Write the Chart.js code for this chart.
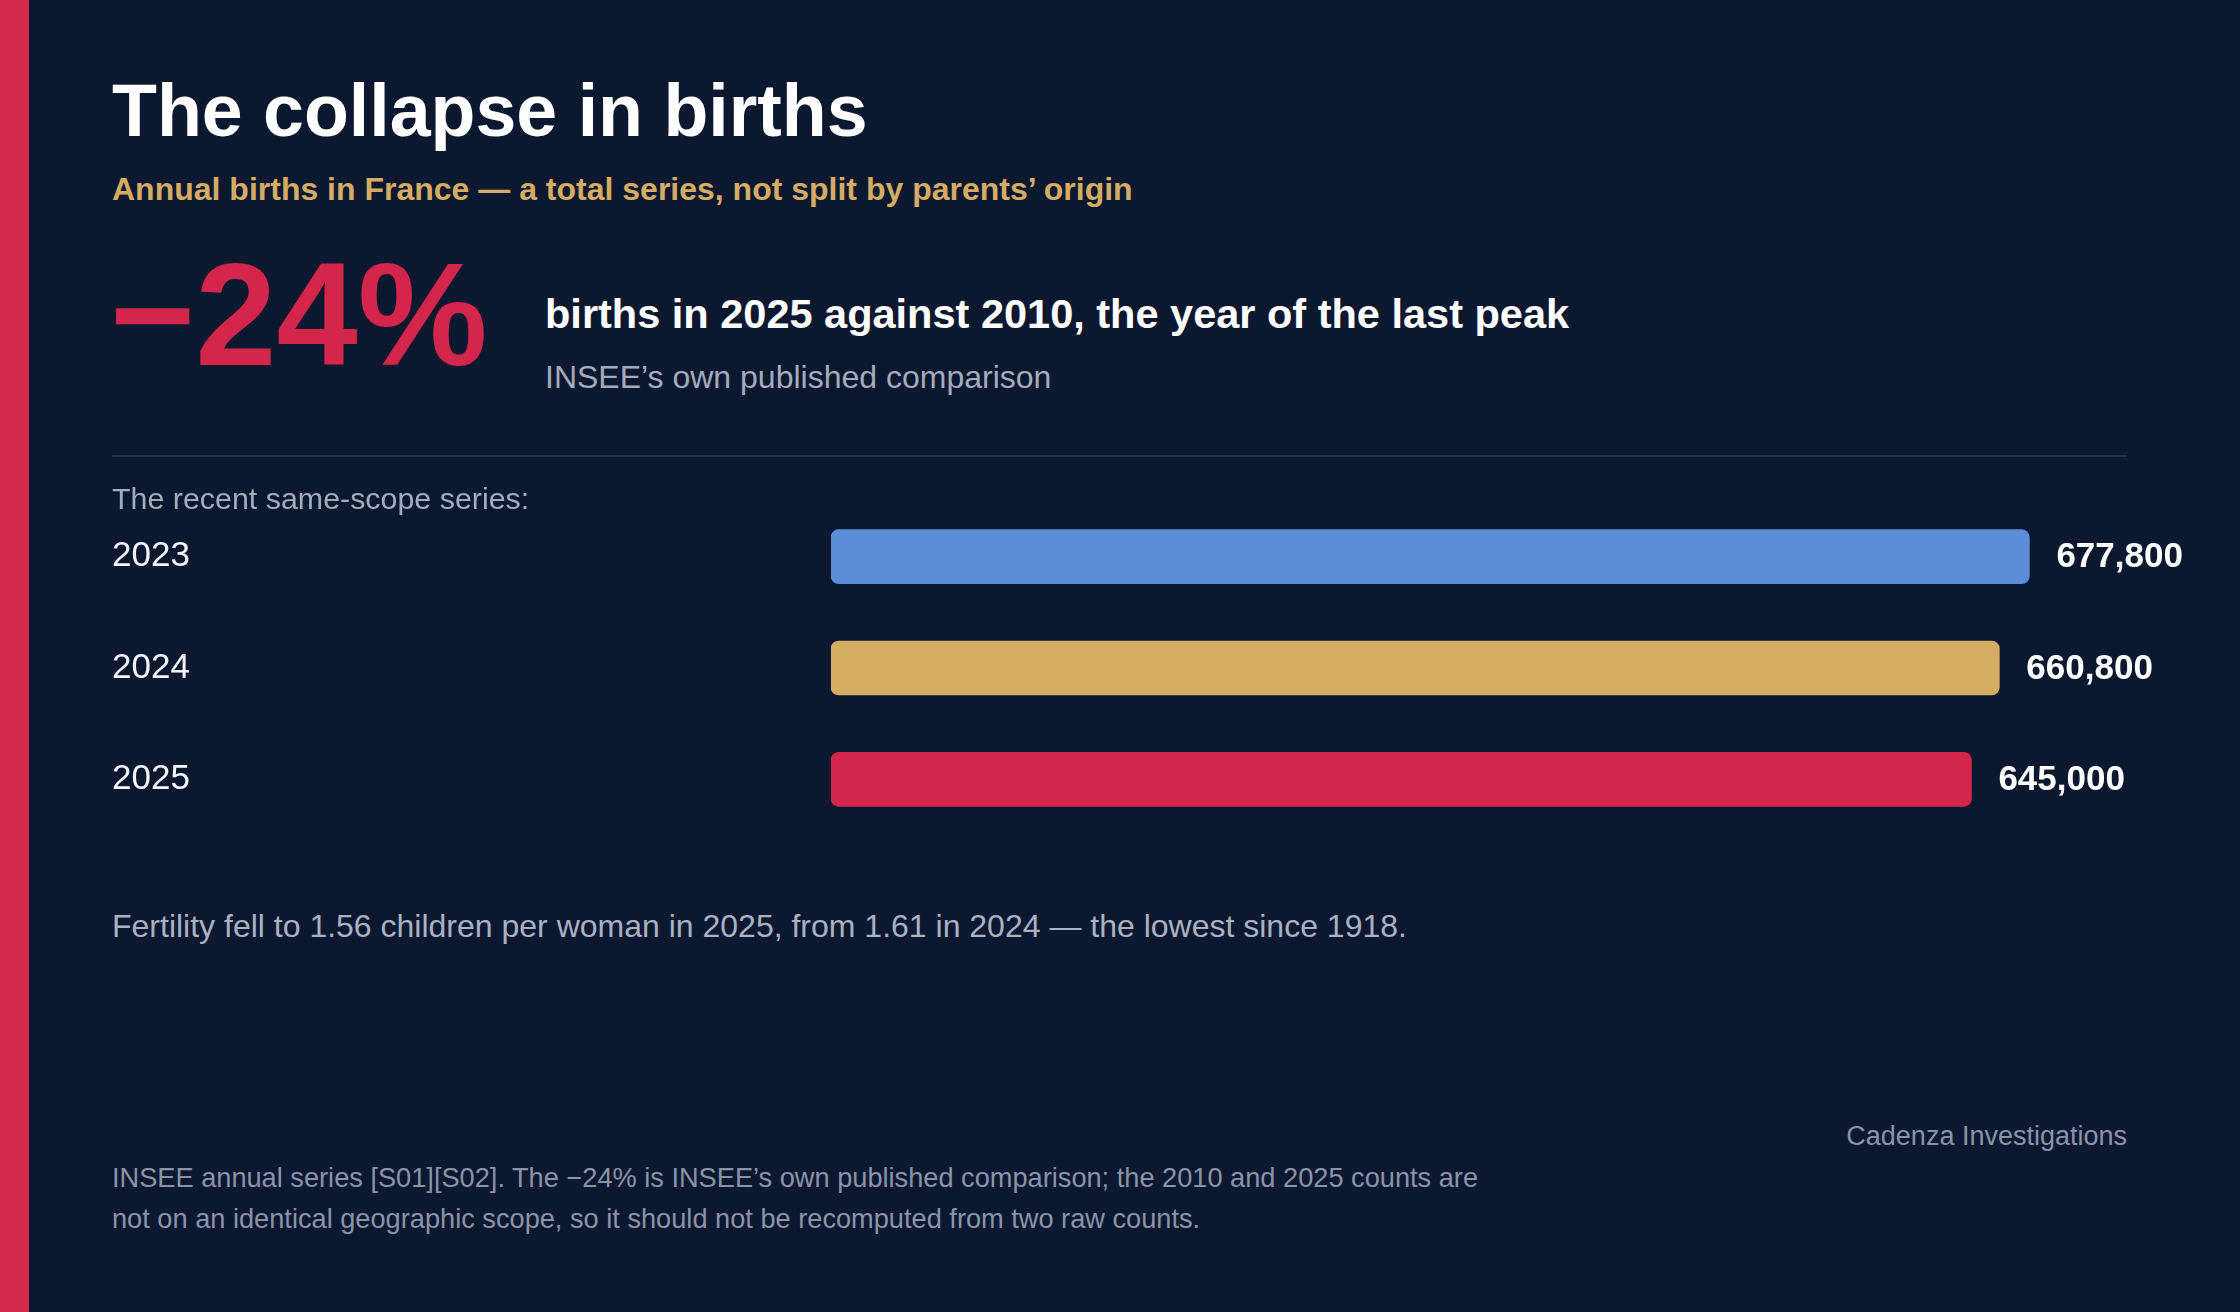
<!DOCTYPE html>
<html>
<head>
<meta charset="utf-8">
<script src="https://cdn.jsdelivr.net/npm/chart.js@4.4.1/dist/chart.umd.min.js"></script>
<style>
  html, body { margin: 0; padding: 0; }
  body {
    width: 2240px; height: 1312px; position: relative; overflow: hidden;
    background: #0c1830; font-family: "Liberation Sans", Arial, sans-serif;
  }
  .stripe { position: absolute; left: 0; top: 0; width: 29px; height: 1312px; background: #d62a4b; }
  .t { position: absolute; white-space: nowrap; line-height: 1; }
  #title { left: 112px; top: 74px; font-size: 73.5px; font-weight: bold; color: #ffffff; }
  #sub { left: 112px; top: 173px; font-size: 32px; font-weight: bold; color: #d4ac63; }
  #big { left: 110px; top: 242px; font-size: 146px; font-weight: bold; color: #d4264a; }
  #headline { left: 545px; top: 293px; font-size: 41.5px; font-weight: bold; color: #ffffff; }
  #headsub { left: 545px; top: 361px; font-size: 32px; color: #a3acbb; }
  .rule { position: absolute; left: 112px; top: 455px; width: 2015px; height: 2px; background: #24334d; }
  #recent { left: 112px; top: 483px; font-size: 30.4px; color: #a3acbb; }
  #fert { left: 112px; top: 910px; font-size: 32px; color: #a9b2c1; }
  #brand { right: 113px; top: 1123px; font-size: 27px; color: #8a94a8; }
  #note { left: 112px; top: 1157px; font-size: 27.2px; line-height: 41px; color: #8a94a8; white-space: normal; width: 1500px; }
  #wrap { position: absolute; left: 112px; top: 480px; width: 2128px; height: 376px; }
</style>
</head>
<body>
<div class="stripe"></div>
<div class="t" id="title">The collapse in births</div>
<div class="t" id="sub">Annual births in France — a total series, not split by parents’ origin</div>
<div class="t" id="big">−24%</div>
<div class="t" id="headline">births in 2025 against 2010, the year of the last peak</div>
<div class="t" id="headsub">INSEE’s own published comparison</div>
<div class="rule"></div>
<div id="wrap"><canvas id="chart"></canvas></div>
<div class="t" id="recent">The recent same-scope series:</div>
<div class="t" id="fert">Fertility fell to 1.56 children per woman in 2025, from 1.61 in 2024 — the lowest since 1918.</div>
<div class="t" id="brand">Cadenza Investigations</div>
<div class="t" id="note">INSEE annual series [S01][S02]. The −24% is INSEE’s own published comparison; the 2010 and 2025 counts are<br>not on an identical geographic scope, so it should not be recomputed from two raw counts.</div>

<script>
const years = ['2023', '2024', '2025'];
const births = [677800, 660800, 645000];
const barColors = ['#5b8ed6', '#d4ac63', '#d4264a'];

// value labels at the end of each bar
const valueLabels = {
  id: 'valueLabels',
  afterDatasetsDraw(chart) {
    const ctx = chart.ctx;
    const meta = chart.getDatasetMeta(0);
    ctx.save();
    ctx.font = 'bold 35px "Liberation Sans", Arial, sans-serif';
    ctx.fillStyle = '#ffffff';
    ctx.textAlign = 'left';
    ctx.textBaseline = 'middle';
    meta.data.forEach((bar, i) => {
      ctx.fillText(births[i].toLocaleString('en-US'), bar.x + 27, bar.y + 1);
    });
    ctx.restore();
  }
};

var ctx = document.getElementById('chart').getContext('2d');
var chart = new Chart(ctx, {
  type: 'bar',
  data: {
    labels: years,
    datasets: [{
      data: births,
      backgroundColor: barColors,
      borderWidth: 0,
      borderRadius: 8,
      borderSkipped: false,
      barThickness: 54
    }]
  },
  options: {
    indexAxis: 'y',
    responsive: true,
    maintainAspectRatio: false,
    animation: false,
    devicePixelRatio: 1,
    layout: { padding: { left: 0, right: 113, top: 0, bottom: 0 } },
    plugins: { legend: { display: false }, tooltip: { enabled: false } },
    scales: {
      x: { display: false, min: 0, max: 733000 },
      y: {
        grid: { display: false },
        border: { display: false },
        ticks: {
          crossAlign: 'far',
          padding: 0,
          color: '#f2f4f8',
          font: { family: '"Liberation Sans", Arial, sans-serif', size: 35 }
        },
        afterFit(scale) { scale.width = 719; }
      }
    }
  },
  plugins: [valueLabels]
});
</script>
</body>
</html>
